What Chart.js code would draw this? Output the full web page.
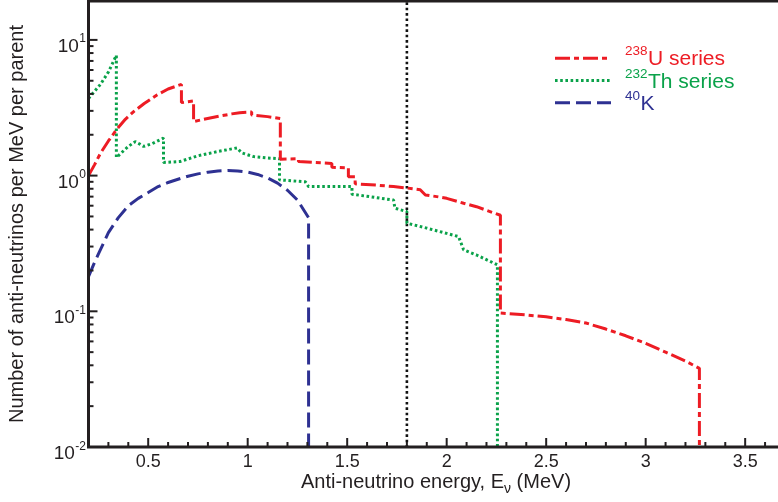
<!DOCTYPE html>
<html>
<head>
<meta charset="utf-8">
<script src="https://cdn.jsdelivr.net/npm/chart.js@4.4.1/dist/chart.umd.min.js"></script>
<style>
  html, body { margin: 0; padding: 0; background: #fff; overflow: hidden; }
  #wrap { position: relative; width: 778px; height: 502px; }
</style>
</head>
<body>
<div id="wrap"><canvas id="spectrum"></canvas></div>
<script>
// 238U series (binned sum of the beta branches)
const uEnergy = [0.2, 0.23, 0.26, 0.3, 0.343, 0.385, 0.427, 0.48, 0.544, 0.6, 0.667,
  0.667, 0.728, 0.728, 0.78, 0.862, 0.92, 0.96, 1.02, 1.02, 1.1, 1.164,
  1.164, 1.255, 1.255, 1.423, 1.423, 1.506, 1.506, 1.54, 1.54, 1.65, 1.733, 1.8, 1.867,
  1.893, 1.95, 2.0, 2.085, 2.15, 2.2, 2.27,
  2.27, 2.4, 2.5, 2.6, 2.7, 2.8, 2.9, 3.0, 3.1, 3.2, 3.27, 3.27];
const uFlux = [1.0, 1.2, 1.46, 1.8, 2.2, 2.6, 2.96, 3.4, 3.93, 4.35, 4.7,
  3.45, 3.55, 2.5, 2.6, 2.75, 2.85, 2.91, 2.94, 2.8, 2.72, 2.63,
  1.32, 1.33, 1.27, 1.23, 1.15, 1.14, 0.98, 0.98, 0.87, 0.85, 0.83, 0.81, 0.786,
  0.72, 0.70, 0.68, 0.626, 0.59, 0.555, 0.51,
  0.097, 0.094, 0.091, 0.087, 0.082, 0.074, 0.066, 0.058, 0.050, 0.043, 0.038, 0.001];

// 232Th series
const thEnergy = [0.2, 0.26, 0.3, 0.34, 0.34, 0.4, 0.435, 0.46, 0.477, 0.52, 0.577, 0.577,
  0.66, 0.75, 0.846, 0.946, 0.97, 1.03, 1.1, 1.16, 1.16, 1.29, 1.306, 1.524, 1.524,
  1.733, 1.74, 1.8, 1.8, 1.9, 2.0, 2.06, 2.085, 2.15, 2.2, 2.255, 2.255];
const thFlux = [3.7, 4.7, 5.8, 7.7, 1.36, 1.64, 1.78, 1.7, 1.64, 1.72, 1.89, 1.25,
  1.27, 1.4, 1.5, 1.6, 1.47, 1.38, 1.35, 1.33, 0.93, 0.9, 0.83, 0.83, 0.73,
  0.66, 0.575, 0.543, 0.446, 0.41, 0.375, 0.355, 0.284, 0.26, 0.24, 0.22, 0.001];

// 40K single beta branch
const kEnergy = [0.2, 0.225, 0.25, 0.3, 0.35, 0.4, 0.45, 0.5, 0.55, 0.6, 0.65, 0.7, 0.75,
  0.8, 0.85, 0.9, 0.95, 1.0, 1.05, 1.1, 1.15, 1.2, 1.25, 1.306, 1.306];
const kFlux = [0.18, 0.22, 0.265, 0.38, 0.49, 0.6, 0.68, 0.75, 0.83, 0.89, 0.94, 0.99, 1.03,
  1.06, 1.08, 1.09, 1.08, 1.06, 1.02, 0.96, 0.88, 0.78, 0.66, 0.49, 0.001];

// inverse beta decay threshold
const thresholdEnergy = 1.8;

const xTickValues = [0.5, 1, 1.5, 2, 2.5, 3, 3.5];
const xTickLabels = ['0.5', '1', '1.5', '2', '2.5', '3', '3.5'];
const yDecades = [0.01, 0.1, 1, 10];
const yExponents = ['-2', '-1', '0', '1'];

const legendMass = ['238', '232', '40'];
const legendNames = ['U series', 'Th series', 'K'];

const FONT = '"Liberation Sans", Arial, Helvetica, sans-serif';
const INK = '#231f20';
const RED = '#ed1c24';
const GREEN = '#0aa24a';
const BLUE = '#2e3192';

function toPoints(xs, ys) {
  return xs.map((x, i) => ({ x, y: ys[i] }));
}

function segment(ctx, x1, y1, x2, y2) {
  ctx.beginPath();
  ctx.moveTo(x1, y1);
  ctx.lineTo(x2, y2);
  ctx.stroke();
}

const axisDecor = {
  id: 'axisDecor',
  afterDraw(chart) {
    const { ctx, chartArea: a, scales: { x, y } } = chart;
    ctx.save();
    ctx.strokeStyle = INK;
    ctx.fillStyle = INK;
    ctx.setLineDash([]);

    // frame: top, left and bottom only
    ctx.lineWidth = 3;
    ctx.lineJoin = 'miter';
    ctx.beginPath();
    ctx.moveTo(a.right + 2, a.top);
    ctx.lineTo(a.left, a.top);
    ctx.lineTo(a.left, a.bottom);
    ctx.lineTo(a.right + 2, a.bottom);
    ctx.stroke();

    // inward tick marks
    ctx.lineWidth = 2;
    for (let i = 2; i <= 36; i++) {
      const px = x.getPixelForValue(i / 10);
      if (px > a.right) break;
      segment(ctx, px, a.bottom, px, a.bottom - (i % 5 === 0 ? 9 : 5));
    }
    yDecades.forEach((d) => {
      for (let k = 1; k <= 9; k++) {
        const v = k * d;
        if (v > y.max) break;
        const py = y.getPixelForValue(v);
        segment(ctx, a.left, py, a.left + (k === 1 ? 9 : 5), py);
      }
    });

    // x tick labels
    ctx.font = `18px ${FONT}`;
    ctx.textAlign = 'center';
    ctx.textBaseline = 'alphabetic';
    xTickValues.forEach((v, i) => {
      ctx.fillText(xTickLabels[i], x.getPixelForValue(v), a.bottom + 20);
    });

    // y tick labels as powers of ten
    yDecades.forEach((d, i) => {
      const py = y.getPixelForValue(d);
      const right = a.left - 2.5;
      ctx.font = `12px ${FONT}`;
      const ew = ctx.measureText(yExponents[i]).width;
      ctx.textAlign = 'left';
      ctx.fillText(yExponents[i], right - ew, py + 2.5);
      ctx.font = `19px ${FONT}`;
      ctx.textAlign = 'right';
      ctx.fillText('10', right - ew - 0.5, py + 12);
    });

    // x axis title with subscript nu
    const parts = [
      { t: 'Anti-neutrino energy, E', size: 20, dy: 0 },
      { t: 'ν', size: 14, dy: 5 },
      { t: ' (MeV)', size: 20, dy: 0 },
    ];
    let total = 0;
    parts.forEach((p) => {
      ctx.font = `${p.size}px ${FONT}`;
      p.w = ctx.measureText(p.t).width;
      total += p.w;
    });
    let cx = 436 - total / 2;
    ctx.textAlign = 'left';
    parts.forEach((p) => {
      ctx.font = `${p.size}px ${FONT}`;
      ctx.fillText(p.t, cx, 488 + p.dy);
      cx += p.w;
    });

    // y axis title
    ctx.save();
    ctx.translate(23, (a.top + a.bottom) / 2);
    ctx.rotate(-Math.PI / 2);
    ctx.font = `20px ${FONT}`;
    ctx.textAlign = 'center';
    ctx.fillText('Number of anti-neutrinos per MeV per parent', 0, 0);
    ctx.restore();

    // legend
    const sets = chart.data.datasets;
    legendNames.forEach((name, i) => {
      const ds = sets[i];
      const ly = 58.3 + 22.2 * i;
      ctx.strokeStyle = ds.borderColor;
      ctx.lineWidth = ds.borderWidth;
      ctx.setLineDash(ds.borderDash);
      segment(ctx, 555, ly, 611, ly);
      ctx.setLineDash([]);

      const base = 65 + 22.5 * i;
      ctx.fillStyle = ds.borderColor;
      ctx.textAlign = 'left';
      ctx.font = `13.5px ${FONT}`;
      ctx.fillText(legendMass[i], 625, base - 9.7);
      const sw = ctx.measureText(legendMass[i]).width;
      ctx.font = `21px ${FONT}`;
      ctx.fillText(name, 625 + sw + 0.5, base);
    });

    ctx.restore();
  },
};

const lineStyle = {
  pointRadius: 0,
  tension: 0,
  borderWidth: 3,
  borderCapStyle: 'butt',
  borderJoinStyle: 'bevel',
  fill: false,
};

new Chart(document.getElementById('spectrum'), {
  type: 'line',
  data: {
    datasets: [
      { ...lineStyle, label: '238U series', data: toPoints(uEnergy, uFlux), borderColor: RED, borderDash: [15, 4, 5, 4] },
      { ...lineStyle, label: '232Th series', data: toPoints(thEnergy, thFlux), borderColor: GREEN, borderDash: [2.6, 2.6] },
      { ...lineStyle, label: '40K', data: toPoints(kEnergy, kFlux), borderColor: BLUE, borderDash: [15, 6] },
      {
        ...lineStyle,
        label: 'threshold',
        data: [{ x: thresholdEnergy, y: 0.001 }, { x: thresholdEnergy, y: 100 }],
        borderColor: '#111111',
        borderWidth: 2.6,
        borderDash: [2.6, 2.8],
      },
    ],
  },
  options: {
    responsive: true,
    maintainAspectRatio: false,
    animation: false,
    devicePixelRatio: 1,
    layout: { padding: { top: 1, right: 0, bottom: 0, left: 0 } },
    plugins: {
      legend: { display: false },
      tooltip: { enabled: false },
    },
    scales: {
      x: {
        type: 'linear',
        min: 0.2,
        max: 3.665,
        bounds: 'data',
        grid: { display: false },
        border: { display: false },
        ticks: { display: false },
        afterFit: (scale) => { scale.height = 55; },
      },
      y: {
        type: 'logarithmic',
        min: 0.01,
        max: 19.35,
        bounds: 'data',
        grid: { display: false },
        border: { display: false },
        ticks: { display: false },
        afterFit: (scale) => { scale.width = 88.5; },
      },
    },
  },
  plugins: [axisDecor],
});
</script>
</body>
</html>
